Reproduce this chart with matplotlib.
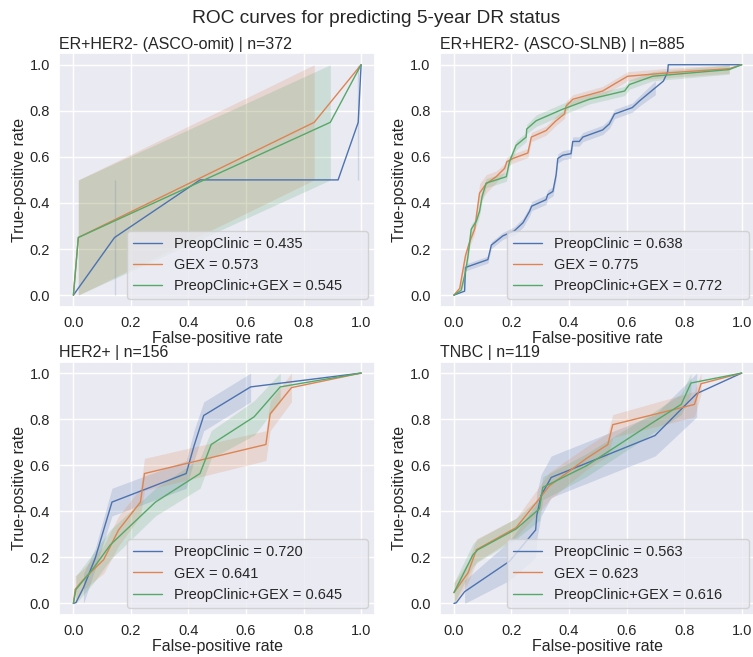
import numpy as np
import matplotlib
matplotlib.use("Agg")
import matplotlib.pyplot as plt
import seaborn as sns

sns.set_theme(style="darkgrid")
plt.rcParams['font.family'] = ['Liberation Sans', 'DejaVu Sans']

nan = np.nan
models = ["PreopClinic", "GEX", "PreopClinic+GEX"]
colors = ["#4c72b0", "#dd8452", "#55a868"]

titles = ["ER+HER2- (ASCO-omit) | n=372", "ER+HER2- (ASCO-SLNB) | n=885",
          "HER2+ | n=156", "TNBC | n=119"]
aucs = [[0.435, 0.573, 0.545], [0.638, 0.775, 0.772],
        [0.720, 0.641, 0.645], [0.563, 0.623, 0.616]]

# ---- Panel 1: ER+HER2- (ASCO-omit)
p1_clin_x = [0, 0.143, 0.44, 0.92, 0.99, 1.0]
p1_clin_y = [0, 0.25, 0.5, 0.5, 0.75, 1.0]
p1_clin_lo = [nan, 0.0, nan, nan, 0.5, nan]
p1_clin_hi = [nan, 0.5, nan, nan, 1.0, nan]
p1_gex_x = [0, 0.017, 0.837, 1.0]
p1_gex_y = [0, 0.25, 0.75, 1.0]
p1_gex_lo = [nan, 0.0, 0.5, nan]
p1_gex_hi = [nan, 0.5, 1.0, nan]
p1_comb_x = [0, 0.017, 0.893, 1.0]
p1_comb_y = [0, 0.25, 0.75, 1.0]
p1_comb_lo = [nan, 0.0, 0.5, nan]
p1_comb_hi = [nan, 0.5, 1.0, nan]

# ---- Panel 2: ER+HER2- (ASCO-SLNB)
p2_clin_x = [0, 0.037, 0.04, 0.118, 0.13, 0.17, 0.21, 0.24, 0.263, 0.27, 0.32, 0.326,
             0.344, 0.355, 0.361, 0.378, 0.407, 0.413, 0.436, 0.448, 0.517, 0.54, 0.558,
             0.62, 0.645, 0.70, 0.728, 0.743, 0.745, 1.0]
p2_clin_y = [0, 0.017, 0.12, 0.154, 0.217, 0.257, 0.279, 0.314, 0.364, 0.386, 0.414, 0.436,
             0.45, 0.521, 0.593, 0.607, 0.614, 0.667, 0.667, 0.686, 0.717, 0.743, 0.786,
             0.814, 0.843, 0.90, 0.929, 0.969, 1.0, 1.0]
p2_clin_d = [nan, 0.01, 0.015, 0.015, 0.015, 0.015, 0.018, 0.02, 0.02, 0.02, 0.02, 0.02,
             0.02, 0.02, 0.02, 0.02, 0.02, 0.02, 0.02, 0.02, 0.02, 0.02, 0.02,
             0.02, 0.022, 0.03, nan, nan, nan, nan]
p2_gex_x = [0, 0.02, 0.04, 0.054, 0.072, 0.078, 0.089, 0.112, 0.147, 0.176, 0.184, 0.205,
            0.257, 0.269, 0.32, 0.355, 0.384, 0.39, 0.413, 0.517, 0.564, 0.604, 0.737,
            0.957, 1.0]
p2_gex_y = [0, 0.029, 0.171, 0.229, 0.286, 0.343, 0.443, 0.483, 0.514, 0.55, 0.579, 0.593,
            0.617, 0.686, 0.714, 0.757, 0.786, 0.821, 0.85, 0.886, 0.921, 0.95, 0.964,
            0.983, 1.0]
p2_gex_d = [nan, 0.02, 0.02, 0.02, 0.02, 0.02, 0.04, 0.04, 0.025, 0.02, 0.02, 0.02,
            0.02, 0.02, 0.02, 0.02, 0.02, 0.02, 0.02, 0.02, 0.02, 0.02, 0.02,
            0.02, nan]
p2_comb_x = [0, 0.025, 0.04, 0.049, 0.06, 0.078, 0.089, 0.098, 0.112, 0.182, 0.193, 0.216,
             0.251, 0.253, 0.286, 0.378, 0.471, 0.593, 0.61, 0.691, 0.957, 1.0]
p2_comb_y = [0, 0.021, 0.1, 0.171, 0.286, 0.321, 0.364, 0.429, 0.486, 0.514, 0.579, 0.65,
             0.686, 0.721, 0.757, 0.807, 0.85, 0.886, 0.914, 0.95, 0.979, 1.0]
p2_comb_d = [nan, 0.015, 0.02, 0.02, 0.02, 0.02, 0.02, 0.02, 0.02, 0.02, 0.02, 0.02,
             0.02, 0.02, 0.025, 0.025, 0.02, 0.02, 0.02, 0.02, 0.02, nan]

# ---- Panel 3: HER2+
p3_clin_x = [0, 0.009, 0.035, 0.076, 0.134, 0.392, 0.419, 0.453, 0.616, 1.0]
p3_clin_y = [0, 0.004, 0.069, 0.197, 0.44, 0.564, 0.683, 0.816, 0.94, 1.0]
p3_clin_lo = [nan, nan, 0.0, 0.15, 0.38, 0.50, 0.62, 0.75, 0.875, nan]
p3_clin_hi = [nan, nan, 0.13, 0.24, 0.50, 0.62, 0.75, 0.875, 1.0, nan]
p3_gex_x = [0, 0.006, 0.035, 0.105, 0.157, 0.233, 0.247, 0.669, 0.684, 0.758, 1.0]
p3_gex_y = [0, 0.061, 0.104, 0.19, 0.319, 0.44, 0.564, 0.69, 0.823, 0.937, 1.0]
p3_gex_lo = [nan, 0.0, 0.06, 0.13, 0.25, 0.38, 0.49, 0.62, 0.75, 0.875, nan]
p3_gex_hi = [nan, 0.12, 0.15, 0.25, 0.38, 0.50, 0.63, 0.75, 0.88, 1.0, nan]
p3_comb_x = [0, 0.009, 0.07, 0.128, 0.285, 0.44, 0.479, 0.628, 0.719, 1.0]
p3_comb_y = [0, 0.061, 0.154, 0.254, 0.44, 0.564, 0.69, 0.81, 0.94, 1.0]
p3_comb_lo = [nan, 0.0, 0.09, 0.19, 0.38, 0.50, 0.63, 0.73, 0.875, nan]
p3_comb_hi = [nan, 0.12, 0.22, 0.32, 0.50, 0.63, 0.75, 0.88, 1.0, nan]

# ---- Panel 4: TNBC
p4_clin_x = [0, 0.008, 0.037, 0.193, 0.284, 0.288, 0.303, 0.338, 0.699, 0.844, 1.0]
p4_clin_y = [0, 0.003, 0.051, 0.183, 0.319, 0.383, 0.469, 0.547, 0.729, 0.911, 1.0]
p4_clin_lo = [nan, nan, 0.0, 0.10, 0.20, 0.28, 0.38, 0.46, 0.64, 0.81, nan]
p4_clin_hi = [nan, nan, 0.10, 0.27, 0.43, 0.48, 0.56, 0.64, 0.82, 1.0, nan]
p4_gex_x = [0, 0.049, 0.078, 0.216, 0.292, 0.332, 0.46, 0.535, 0.552, 0.836, 0.859, 1.0]
p4_gex_y = [0.047, 0.133, 0.233, 0.329, 0.447, 0.511, 0.629, 0.69, 0.776, 0.864, 0.954, 1.0]
p4_gex_lo = [0.0, 0.09, 0.18, 0.29, 0.39, 0.45, 0.58, 0.64, 0.72, 0.81, 0.91, nan]
p4_gex_hi = [0.09, 0.18, 0.28, 0.37, 0.50, 0.57, 0.68, 0.74, 0.82, 0.92, 1.0, nan]
p4_comb_x = [0, 0.066, 0.083, 0.216, 0.297, 0.309, 0.46, 0.692, 0.79, 0.824, 1.0]
p4_comb_y = [0.047, 0.211, 0.233, 0.323, 0.411, 0.504, 0.597, 0.786, 0.864, 0.957, 1.0]
p4_comb_lo = [0.0, 0.16, 0.18, 0.28, 0.36, 0.45, 0.55, 0.74, 0.82, 0.91, nan]
p4_comb_hi = [0.09, 0.26, 0.28, 0.37, 0.46, 0.55, 0.65, 0.83, 0.91, 1.0, nan]


def band(y, d):
    y = np.asarray(y, float); d = np.asarray(d, float)
    return list(y - d), list(np.minimum(y + d, 1.0))


p2_clin_lo, p2_clin_hi = band(p2_clin_y, p2_clin_d)
p2_gex_lo, p2_gex_hi = band(p2_gex_y, p2_gex_d)
p2_comb_lo, p2_comb_hi = band(p2_comb_y, p2_comb_d)

panels = [
    [(p1_clin_x, p1_clin_y, p1_clin_lo, p1_clin_hi),
     (p1_gex_x, p1_gex_y, p1_gex_lo, p1_gex_hi),
     (p1_comb_x, p1_comb_y, p1_comb_lo, p1_comb_hi)],
    [(p2_clin_x, p2_clin_y, p2_clin_lo, p2_clin_hi),
     (p2_gex_x, p2_gex_y, p2_gex_lo, p2_gex_hi),
     (p2_comb_x, p2_comb_y, p2_comb_lo, p2_comb_hi)],
    [(p3_clin_x, p3_clin_y, p3_clin_lo, p3_clin_hi),
     (p3_gex_x, p3_gex_y, p3_gex_lo, p3_gex_hi),
     (p3_comb_x, p3_comb_y, p3_comb_lo, p3_comb_hi)],
    [(p4_clin_x, p4_clin_y, p4_clin_lo, p4_clin_hi),
     (p4_gex_x, p4_gex_y, p4_gex_lo, p4_gex_hi),
     (p4_comb_x, p4_comb_y, p4_comb_lo, p4_comb_hi)],
]

fig, axes = plt.subplots(2, 2, figsize=(7.53, 6.57), dpi=100)
fig.subplots_adjust(left=0.0784, right=1.004, top=0.919, bottom=0.064,
                    wspace=0.2025, hspace=0.217)

for ax, title, curves, auc in zip(axes.flat, titles, panels, aucs):
    for (x, y, lo, hi), name, c, a in zip(curves, models, colors, auc):
        x = np.asarray(x, float); lo = np.asarray(lo, float); hi = np.asarray(hi, float)
        ax.plot(x, y, color=c, lw=1.0, label=f"{name} = {a:.3f}     ")
        ax.fill_between(x, lo, hi, color=c, alpha=0.2, linewidth=0)
        valid = ~np.isnan(lo)
        for i in range(len(x)):
            if valid[i]:
                left_ok = i > 0 and valid[i - 1]
                right_ok = i < len(x) - 1 and valid[i + 1]
                if not left_ok and not right_ok:
                    ax.vlines(x[i], lo[i], hi[i], color=c, alpha=0.2, lw=1.0)
    ax.set_title(title, loc="left", fontsize=11.5, pad=3)
    ax.set_xlabel("False-positive rate", fontsize=11.5, labelpad=1)
    ax.set_ylabel("True-positive rate", fontsize=11.5, labelpad=2)
    ax.tick_params(labelsize=10.5, length=0, pad=6.5)
    ax.set_xticks([0, 0.2, 0.4, 0.6, 0.8, 1.0])
    ax.set_yticks([0, 0.2, 0.4, 0.6, 0.8, 1.0])
    ax.set_xlim(-0.05, 1.05)
    ax.set_ylim(-0.05, 1.05)
    ax.legend(loc="lower right", fontsize=10.5, handlelength=2.0)

fig.suptitle("ROC curves for predicting 5-year DR status", fontsize=13.8, y=0.985)
fig.savefig("out.png", dpi=100)
